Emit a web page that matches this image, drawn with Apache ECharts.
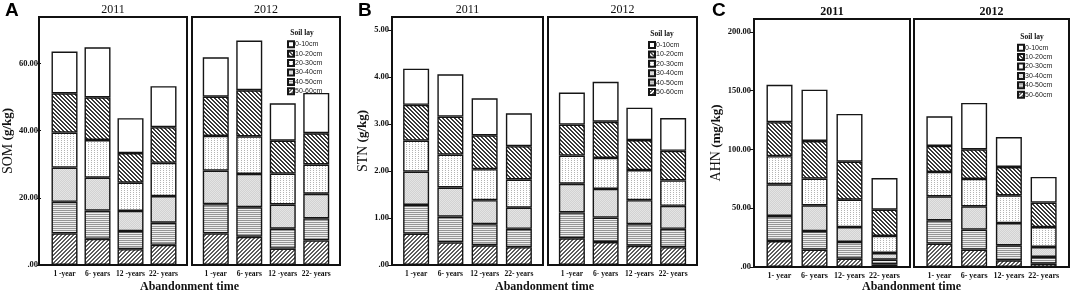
<!DOCTYPE html>
<html>
<head>
<meta charset="utf-8">
<script src="https://cdn.jsdelivr.net/npm/echarts@6/dist/echarts.min.js"></script>
<style>
  html, body { margin: 0; padding: 0; background: #fff; }
  #chart { width: 1072px; height: 296px; }
</style>
</head>
<body>
<div id="chart"></div>
<script>
// soil layers, top to bottom (legend order)
const layers = ["0-10cm", "10-20cm", "20-30cm", "30-40cm", "40-50cm", "50-60cm"];
const years = ["2011", "2012"];
const catsAB = ["1 -year", "6- years", "12 -years", "22- years"];
const catsC = ["1- year", "6- years", "12- years", "22- years"];

// values per layer (rows follow `layers`), columns follow the categories
const som2011 = [
  [12.4, 14.9, 10.4, 12.2],
  [11.7, 12.7, 8.8, 10.6],
  [10.4, 11.2, 8.4, 9.9],
  [10.2, 9.8, 6.0, 7.9],
  [9.4, 8.4, 5.4, 6.6],
  [9.4, 7.8, 4.7, 6.0]
];
const som2012 = [
  [11.7, 14.8, 11.1, 12.0],
  [11.7, 13.7, 9.8, 9.3],
  [10.3, 11.2, 9.2, 8.7],
  [10.0, 9.9, 7.2, 7.3],
  [8.7, 8.8, 5.9, 6.6],
  [9.4, 8.4, 4.9, 7.3]
];
const stn2011 = [
  [0.77, 0.90, 0.79, 0.70],
  [0.76, 0.81, 0.72, 0.71],
  [0.66, 0.70, 0.66, 0.60],
  [0.71, 0.62, 0.51, 0.45],
  [0.61, 0.55, 0.45, 0.39],
  [0.67, 0.48, 0.42, 0.38]
];
const stn2012 = [
  [0.68, 0.85, 0.69, 0.70],
  [0.66, 0.77, 0.64, 0.63],
  [0.60, 0.66, 0.64, 0.54],
  [0.61, 0.61, 0.51, 0.49],
  [0.55, 0.52, 0.46, 0.39],
  [0.57, 0.49, 0.41, 0.38]
];
const ahn2011 = [
  [31.8, 43.7, 40.6, 26.9],
  [28.9, 32.0, 32.3, 22.4],
  [23.9, 22.7, 23.3, 14.5],
  [27.0, 21.9, 12.7, 5.7],
  [21.3, 15.8, 14.2, 3.9],
  [22.1, 14.8, 7.1, 2.3]
];
const ahn2012 = [
  [25.2, 39.5, 25.5, 21.8],
  [22.1, 25.2, 24.1, 20.8],
  [20.8, 23.3, 23.6, 17.0],
  [20.4, 19.8, 19.0, 8.5],
  [19.8, 17.0, 12.7, 5.7],
  [19.9, 14.8, 5.7, 2.8]
];

const somTicks = [0, 20, 40, 60];
const stnTicks = [0, 1, 2, 3, 4, 5];
const ahnTicks = [0, 50, 100, 150, 200];

const SERIF = "'Liberation Serif', 'DejaVu Serif', serif";
const SANS = "'Liberation Sans', Arial, sans-serif";

// panel setup (layout in px)
const panels = [
  { letter: "A", letterX: 5, unitA: "SOM", unitB: " (g/kg)", data: [som2011, som2012], cats: catsAB,
    max: 73.8, ticks: somTicks, frames: [[39, 187], [192, 340]], top: 17, bottom: 265, inset: 7,
    legend: [287, 40.3], legendTitle: [302, 33], boldTitle: false, nameGap: 22, catSize: 7.5 },
  { letter: "B", letterX: 358, unitA: "STN", unitB: " (g/kg)", data: [stn2011, stn2012], cats: catsAB,
    max: 5.28, ticks: stnTicks, frames: [[392, 543], [548, 697]], top: 17, bottom: 265, inset: 7,
    legend: [648, 41], legendTitle: [662, 34], boldTitle: false, nameGap: 22, catSize: 7.5 },
  { letter: "C", letterX: 712, unitA: "AHN", unitB: " (mg/kg)", data: [ahn2011, ahn2012], cats: catsC,
    max: 211, ticks: ahnTicks, frames: [[754, 910], [914, 1069]], top: 19, bottom: 267, inset: 8,
    legend: [1017, 43.7], legendTitle: [1032, 37], boldTitle: true, nameGap: 24, catSize: 8 }
];

function makePattern(w, h, draw) {
  const c = document.createElement("canvas");
  c.width = w;
  c.height = h;
  const ctx = c.getContext("2d");
  ctx.fillStyle = "#ffffff";
  ctx.fillRect(0, 0, w, h);
  draw(ctx);
  return { image: c, repeat: "repeat" };
}

const fills = [
  "#ffffff",
  // 10-20: dark back-slash hatch
  makePattern(4, 4, ctx => {
    ctx.fillStyle = "#3a3a3a";
    for (let i = 0; i < 4; i++) {
      ctx.fillRect(i, i, 1, 1);
      ctx.fillRect((i + 1) % 4, i, 1, 1);
    }
  }),
  // 20-30: white with faint vertical dots
  makePattern(3, 2, ctx => {
    ctx.fillStyle = "#b4b4b4";
    ctx.fillRect(1, 0, 1, 1);
  }),
  // 30-40: light grey
  makePattern(2, 2, ctx => {
    ctx.fillStyle = "#d2d2d2";
    ctx.fillRect(0, 0, 2, 2);
    ctx.fillStyle = "#e4e4e4";
    ctx.fillRect(0, 0, 1, 1);
    ctx.fillRect(1, 1, 1, 1);
  }),
  // 40-50: horizontal lines
  makePattern(2, 2, ctx => {
    ctx.fillStyle = "#969696";
    ctx.fillRect(0, 0, 2, 1);
    ctx.fillStyle = "#eeeeee";
    ctx.fillRect(0, 1, 2, 1);
  }),
  // 50-60: forward-slash hatch
  makePattern(4, 4, ctx => {
    ctx.fillStyle = "#5e5e5e";
    for (let i = 0; i < 4; i++) {
      ctx.fillRect(3 - i, i, 1, 1);
      ctx.fillRect((4 - i) % 4, i, 1, 1);
    }
  })
];

const fmt = v => (v === 0 ? ".00" : v.toFixed(2));

const grids = [], xAxes = [], yAxes = [], series = [], legends = [], graphics = [];

panels.forEach((p, pi) => {
  p.frames.forEach((f, yi) => {
    const g = pi * 2 + yi;
    grids.push({
      left: f[0] + p.inset,
      width: f[1] - f[0] - 2 * p.inset,
      top: p.top,
      height: p.bottom - p.top
    });
    xAxes.push({
      type: "category",
      gridIndex: g,
      data: p.cats,
      axisLine: { show: false },
      axisTick: { alignWithLabel: true, length: 4, lineStyle: { color: "#111", width: 1 } },
      axisLabel: { interval: 0, margin: 5, color: "#111", fontFamily: SERIF, fontWeight: "bold", fontSize: p.catSize }
    });
    yAxes.push({
      type: "value",
      gridIndex: g,
      min: 0,
      max: p.max,
      show: yi === 0,
      offset: p.inset,
      splitLine: { show: false },
      axisLine: { show: false },
      axisTick: { show: true, customValues: p.ticks, length: 4, lineStyle: { color: "#111" } },
      axisLabel: { customValues: p.ticks, formatter: fmt, margin: 3, color: "#111",
        fontFamily: SERIF, fontWeight: "bold", fontSize: 8.5 },
      name: yi === 0 ? "{a|" + p.unitA + "}{b|" + p.unitB + "}" : "",
      nameLocation: "middle",
      nameGap: p.nameGap,
      nameTextStyle: {
        rich: {
          a: { fontFamily: SERIF, fontSize: 14, color: "#111" },
          b: { fontFamily: SERIF, fontSize: 13, fontWeight: "bold", color: "#111" }
        }
      }
    });
    for (let li = layers.length - 1; li >= 0; li--) {
      series.push({
        type: "bar",
        name: layers[li],
        xAxisIndex: g,
        yAxisIndex: g,
        stack: "s" + g,
        barWidth: 26,
        data: p.data[yi][li],
        itemStyle: { color: fills[li], borderColor: "#151515", borderWidth: 1.4 },
        emphasis: { disabled: true }
      });
    }
    // frame
    graphics.push({
      type: "rect",
      z: 100,
      shape: { x: f[0], y: p.top, width: f[1] - f[0], height: p.bottom - p.top },
      style: { fill: null, stroke: "#111", lineWidth: 2 }
    });
    // year title
    graphics.push({
      type: "text",
      z: 100,
      style: {
        text: years[yi],
        x: (f[0] + f[1]) / 2,
        y: p.top - 7,
        textAlign: "center",
        textVerticalAlign: "middle",
        font: (p.boldTitle ? "bold " : "") + "12px " + SERIF,
        fill: "#111"
      }
    });
  });

  legends.push({
    data: layers,
    orient: "vertical",
    left: p.legend[0],
    top: p.legend[1],
    padding: 0,
    itemWidth: 6,
    itemHeight: 6,
    itemGap: 1.4,
    icon: "rect",
    selectedMode: false,
    textStyle: { fontFamily: SANS, fontSize: 7, color: "#222", lineHeight: 6, padding: [0, 0, 0, -4] }
  });
  graphics.push({
    type: "text",
    z: 100,
    style: {
      text: "Soil lay",
      x: p.legendTitle[0],
      y: p.legendTitle[1],
      textAlign: "center",
      textVerticalAlign: "middle",
      font: "bold 7.5px " + SERIF,
      fill: "#111"
    }
  });
  graphics.push({
    type: "text",
    z: 100,
    style: {
      text: p.letter,
      x: p.letterX,
      y: 11,
      textAlign: "left",
      textVerticalAlign: "middle",
      font: "bold 19px " + SANS,
      fill: "#000"
    }
  });
  graphics.push({
    type: "text",
    z: 100,
    style: {
      text: "Abandonment time",
      x: (p.frames[0][0] + p.frames[1][1]) / 2,
      y: 287,
      textAlign: "center",
      textVerticalAlign: "middle",
      font: "bold 12px " + SERIF,
      fill: "#111"
    }
  });
});

const chart = echarts.init(document.getElementById("chart"), null, { renderer: "canvas" });
chart.setOption({
  animation: false,
  backgroundColor: "#fff",
  grid: grids,
  xAxis: xAxes,
  yAxis: yAxes,
  legend: legends,
  series: series,
  graphic: graphics
});
</script>
</body>
</html>
